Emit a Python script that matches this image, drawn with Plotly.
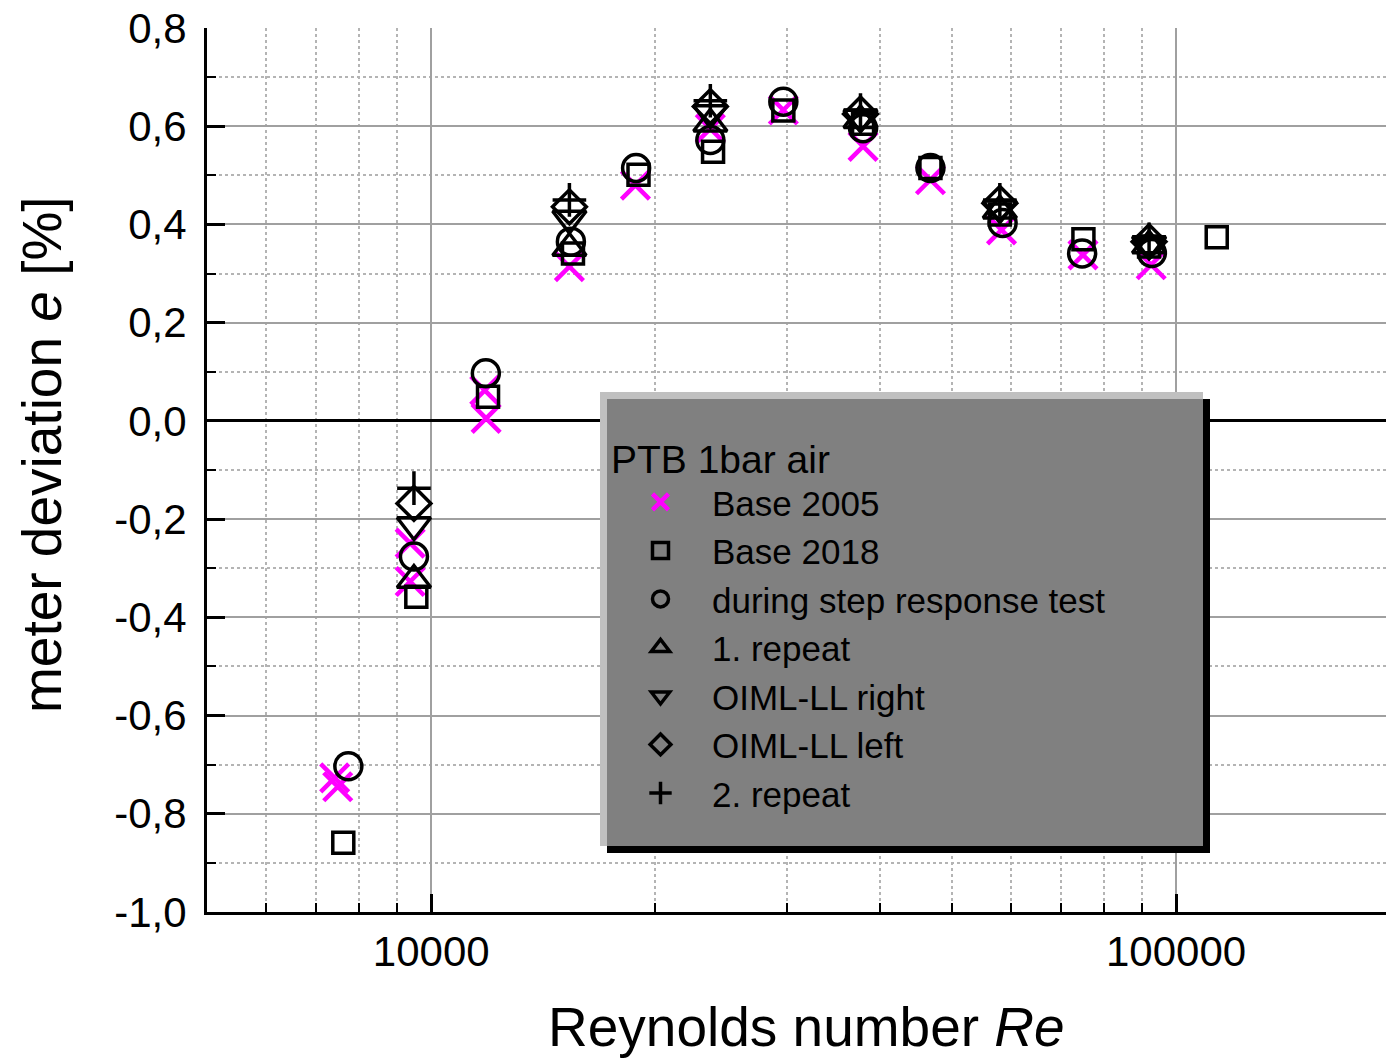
import plotly.graph_objects as go

# ---------------- data ----------------
base2005_re = [7420, 7490, 9370, 9370, 11800, 11850, 15330, 18800, 23700, 29700, 38000, 46800, 58300, 75000, 92600]
base2005_e = [-0.727, -0.745, -0.249, -0.327, 0.062, 0.005, 0.314, 0.480, 0.595, 0.633, 0.559, 0.491, 0.389, 0.338, 0.318]

base2018_re = [7620, 9550, 11920, 15500, 18980, 23900, 29700, 38000, 46800, 58000, 75100, 92000, 113400]
base2018_e = [-0.859, -0.358, 0.049, 0.341, 0.501, 0.548, 0.632, 0.605, 0.515, 0.420, 0.370, 0.355, 0.374]

step_re = [7740, 9480, 11840, 15400, 18840, 23700, 29700, 38000, 46800, 58500, 74800, 92800]
step_e = [-0.703, -0.276, 0.097, 0.365, 0.515, 0.572, 0.650, 0.596, 0.515, 0.403, 0.341, 0.342]

rep1_re = [9480, 15330, 23700, 37700, 58000, 92000]
rep1_e = [-0.324, 0.352, 0.605, 0.612, 0.428, 0.357]

oiml_right_re = [9480, 15330, 23700, 37700, 58000, 92000]
oiml_right_e = [-0.212, 0.412, 0.627, 0.618, 0.433, 0.360]

oiml_left_re = [9480, 15330, 23700, 37700, 58000, 92000]
oiml_left_e = [-0.168, 0.436, 0.640, 0.625, 0.443, 0.365]

rep2_re = [9480, 15330, 23700, 37700, 58000, 92000]
rep2_e = [-0.137, 0.450, 0.652, 0.633, 0.450, 0.370]

y_tick_vals = [-1.0, -0.8, -0.6, -0.4, -0.2, 0.0, 0.2, 0.4, 0.6, 0.8]
y_tick_text = ["-1,0", "-0,8", "-0,6", "-0,4", "-0,2", "0,0", "0,2", "0,4", "0,6", "0,8"]
y_minor_vals = [-0.9, -0.7, -0.5, -0.3, -0.1, 0.1, 0.3, 0.5, 0.7]
x_tick_vals = [10000, 100000]
x_tick_text = ["10000", "100000"]
x_minor_vals = [6000, 7000, 8000, 9000, 20000, 30000, 40000, 50000, 60000, 70000, 80000, 90000]

# ---------------- layout helpers ----------------
W, H = 1386, 1061
L, R, T, B = 207, 0, 28, 149
PW, PH = W - L - R, H - T - B


def px(x):
    return (x - L) / PW


def py(y):
    return (H - B - y) / PH


FONT = "Liberation Sans, Arial, sans-serif"

fig = go.Figure()

series = [
    ("Base 2005", base2005_re, base2005_e, "x-thin", 28, "#ff00ff", 4.5),
    ("Base 2018", base2018_re, base2018_e, "square-open", 21, "black", 3.5),
    ("during step response test", step_re, step_e, "circle-open", 27, "black", 3.5),
    ("1. repeat", rep1_re, rep1_e, "triangle-up-open", 29, "black", 3.5),
    ("OIML-LL right", oiml_right_re, oiml_right_e, "triangle-down-open", 29, "black", 3.5),
    ("OIML-LL left", oiml_left_re, oiml_left_e, "diamond-open", 26, "black", 3.5),
    ("2. repeat", rep2_re, rep2_e, "cross-thin", 24, "black", 3.5),
]

for name, xs, ys, sym, size, col, lw in series:
    fig.add_trace(go.Scatter(
        x=xs, y=ys, mode="markers", name=name,
        marker=dict(symbol=sym, size=size, color=col,
                    line=dict(color=col, width=lw)),
    ))

# legend box (bevel)
shapes = [
    dict(type="rect", xref="paper", yref="paper",
         x0=px(607), x1=px(1210), y0=py(853), y1=py(399),
         fillcolor="black", line=dict(width=0), layer="above"),
    dict(type="rect", xref="paper", yref="paper",
         x0=px(600), x1=px(1203), y0=py(846), y1=py(392),
         fillcolor="#c0c0c0", line=dict(width=0), layer="above"),
    dict(type="rect", xref="paper", yref="paper",
         x0=px(607), x1=px(1203), y0=py(846), y1=py(399),
         fillcolor="#808080", line=dict(width=0), layer="above"),
]

annotations = [
    dict(text="meter deviation <i>e</i> [%]", xref="paper", yref="paper",
         x=px(42), y=py(455), textangle=-90, showarrow=False,
         xanchor="center", yanchor="middle",
         font=dict(family=FONT, size=55, color="black")),
    dict(text="Reynolds number <i>Re</i>", xref="paper", yref="paper",
         x=px(806), y=py(1027), showarrow=False,
         xanchor="center", yanchor="middle",
         font=dict(family=FONT, size=55, color="black")),
]

fig.update_layout(
    width=W, height=H,
    margin=dict(l=L, r=R, t=T, b=B, pad=0),
    paper_bgcolor="white", plot_bgcolor="white",
    font=dict(family=FONT, size=42, color="black"),
    showlegend=True,
    legend=dict(
        x=px(609), y=py(422), xanchor="left", yanchor="top",
        bgcolor="rgba(0,0,0,0)", borderwidth=0,
        font=dict(family=FONT, size=35, color="black"),
        title=dict(text="PTB 1bar air", font=dict(family=FONT, size=39, color="black")),
        itemwidth=93, itemsizing="trace",
    ),
    shapes=shapes,
    annotations=annotations,
    xaxis=dict(
        type="log", range=[3.69897, 4 + (1386 - 431) / 745],
        tickvals=x_tick_vals, ticktext=x_tick_text,
        ticks="inside", ticklen=18, tickwidth=2.5, tickcolor="black",
        showline=True, linecolor="black", linewidth=3, mirror=False,
        showgrid=True, gridcolor="#a0a0a0", gridwidth=2,
        zeroline=False, ticklabelstandoff=1,
        tickfont=dict(family=FONT, size=42, color="black"),
        minor=dict(tickvals=x_minor_vals, ticks="inside", ticklen=9, tickwidth=2,
                   tickcolor="black", showgrid=True, gridcolor="#b4b4b4",
                   gridwidth=1.5, griddash="dot"),
    ),
    yaxis=dict(
        range=[-1.0, 0.8],
        tickvals=y_tick_vals, ticktext=y_tick_text,
        ticks="inside", ticklen=18, tickwidth=2.5, tickcolor="black",
        showline=True, linecolor="black", linewidth=3, mirror=False,
        showgrid=True, gridcolor="#a0a0a0", gridwidth=2,
        zeroline=True, zerolinecolor="black", zerolinewidth=3,
        ticklabelstandoff=9,
        tickfont=dict(family=FONT, size=42, color="black"),
        minor=dict(tickvals=y_minor_vals, ticks="inside", ticklen=9, tickwidth=2,
                   tickcolor="black", showgrid=True, gridcolor="#b4b4b4",
                   gridwidth=1.5, griddash="dot"),
    ),
)

fig.write_html("out.html")
